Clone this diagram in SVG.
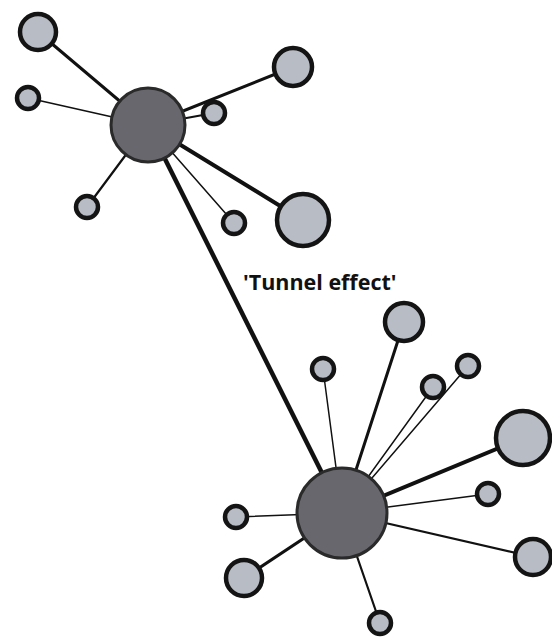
<svg xmlns="http://www.w3.org/2000/svg" width="552" height="637" viewBox="0 0 552 637">
<style>
.hub{fill:#67676d;stroke:#2a2a2a;stroke-width:3}
.sat{fill:#b8bdc5;stroke:#141414;stroke-width:4.5}
.c{stroke:#111;fill:none;stroke-linecap:round}
.t1{stroke-width:1.5}.t2{stroke-width:2.2}.t3{stroke-width:3}.t4{stroke-width:4}.t5{stroke-width:4.5}
.lbl{font-family:"Open Sans","DejaVu Sans",sans-serif;font-weight:bold;font-size:21.5px;fill:#111}
</style>
<rect width="552" height="637" fill="#fff"/>
<g id="connectors">
<line class="c t5" x1="148" y1="125" x2="342" y2="513"/>
<line class="c t3" x1="148" y1="125" x2="38" y2="32"/>
<line class="c t1" x1="148" y1="125" x2="28" y2="98"/>
<line class="c t3" x1="148" y1="125" x2="293" y2="67"/>
<line class="c t2" x1="148" y1="125" x2="214" y2="113"/>
<line class="c t2" x1="148" y1="125" x2="87" y2="207"/>
<line class="c t1" x1="148" y1="125" x2="234" y2="223"/>
<line class="c t4" x1="148" y1="125" x2="303" y2="220"/>
<line class="c t3" x1="342" y1="513" x2="404" y2="322"/>
<line class="c t1" x1="342" y1="513" x2="323" y2="369"/>
<line class="c t1" x1="342" y1="513" x2="433" y2="387"/>
<line class="c t1" x1="342" y1="513" x2="468" y2="366"/>
<line class="c t4" x1="342" y1="513" x2="523" y2="438"/>
<line class="c t1" x1="342" y1="513" x2="488" y2="494"/>
<line class="c t2" x1="342" y1="513" x2="533" y2="557"/>
<line class="c t1" x1="342" y1="513" x2="236" y2="517"/>
<line class="c t3" x1="342" y1="513" x2="244" y2="578"/>
<line class="c t2" x1="342" y1="513" x2="380" y2="623"/>
</g>
<g id="hub1"><circle class="hub" cx="148" cy="125" r="37"/></g>
<g id="hub2"><circle class="hub" cx="342" cy="513" r="45"/></g>
<g id="n1"><circle class="sat" cx="38" cy="32" r="18"/></g>
<g id="n2"><circle class="sat" cx="28" cy="98" r="11"/></g>
<g id="n3"><circle class="sat" cx="293" cy="67" r="19"/></g>
<g id="n4"><circle class="sat" cx="214" cy="113" r="11"/></g>
<g id="n5"><circle class="sat" cx="87" cy="207" r="11"/></g>
<g id="n6"><circle class="sat" cx="234" cy="223" r="11"/></g>
<g id="n7"><circle class="sat" cx="303" cy="220" r="26"/></g>
<g id="n8"><circle class="sat" cx="404" cy="322" r="19"/></g>
<g id="n9"><circle class="sat" cx="323" cy="369" r="11"/></g>
<g id="n10"><circle class="sat" cx="433" cy="387" r="11"/></g>
<g id="n11"><circle class="sat" cx="468" cy="366" r="11"/></g>
<g id="n12"><circle class="sat" cx="523" cy="438" r="27"/></g>
<g id="n13"><circle class="sat" cx="488" cy="494" r="11"/></g>
<g id="n14"><circle class="sat" cx="533" cy="557" r="18"/></g>
<g id="n15"><circle class="sat" cx="236" cy="517" r="11"/></g>
<g id="n16"><circle class="sat" cx="244" cy="578" r="18"/></g>
<g id="n17"><circle class="sat" cx="380" cy="623" r="11"/></g>
<g id="label"><text class="lbl" x="243" y="290">'Tunnel effect'</text></g>
</svg>
